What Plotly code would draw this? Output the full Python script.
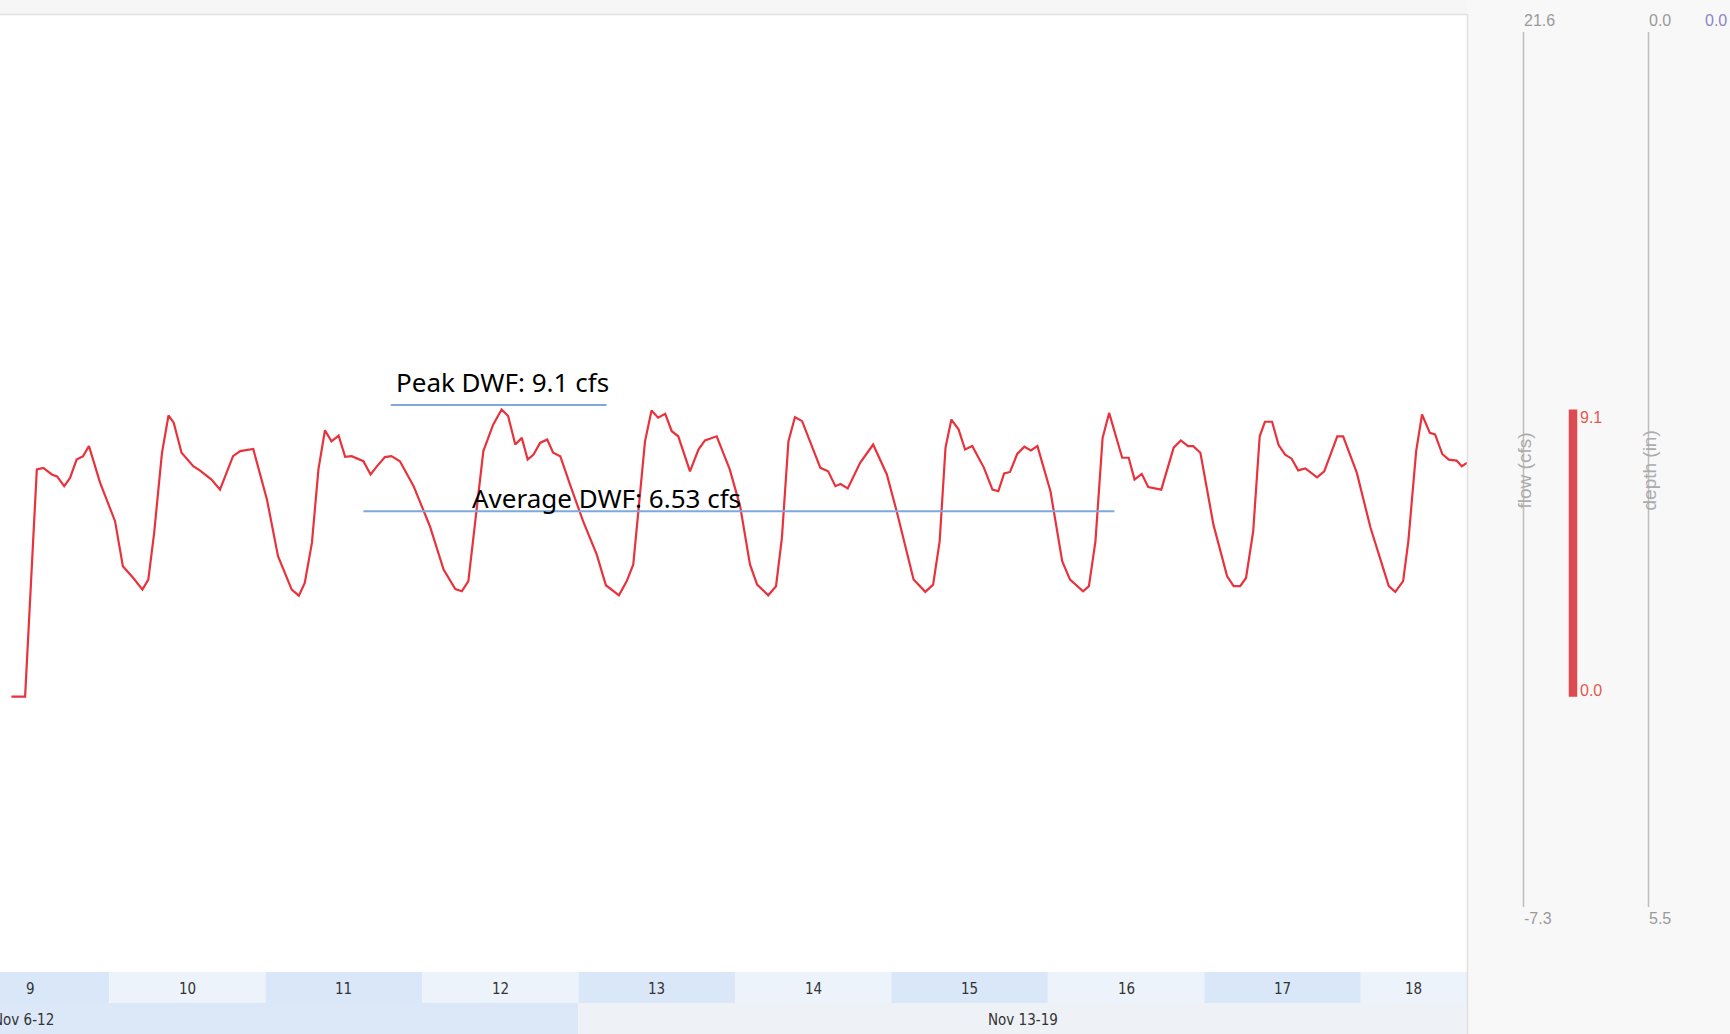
import pandas as pd
import plotly.graph_objects as go

W, H = 1730, 1034

# flow record, hours after 2017-11-09 00:00 -> flow (cfs)
hours = [9.0, 11.1, 12.9, 13.9, 15.2, 16.0, 17.1, 18.0, 19.0, 20.0,
         20.9, 22.6, 24.9, 26.1, 27.7, 29.1, 30.0, 30.9, 32.1, 33.1,
         33.9, 35.1, 36.9, 37.9, 39.7, 41.0, 42.0, 43.0, 44.1, 46.1,
         48.2, 49.9, 52.0, 53.1, 54.0, 55.1, 56.1, 57.1, 58.1, 59.2,
         60.2, 61.2, 63.0, 64.1, 65.0, 66.3, 67.3, 68.6, 70.7, 73.2,
         75.3, 77.1, 78.1, 79.1, 81.4, 82.9, 84.2, 85.2, 86.3, 87.3,
         88.2, 89.1, 90.1, 91.2, 92.1, 93.2, 94.7, 96.7, 98.8, 100.2,
         102.2, 103.4, 104.4, 105.2, 106.2, 107.2, 108.2, 109.3, 110.3, 111.3,
         113.1, 114.4, 115.4, 117.2, 119.2, 120.8, 122.3, 123.4, 125.1, 126.3,
         127.2, 128.2, 129.2, 130.3, 133.1, 134.3, 135.4, 136.2, 137.3, 139.2,
         141.2, 143.3, 144.8, 147.4, 149.2, 150.4, 151.4, 152.3, 153.2, 154.3,
         155.3, 156.4, 158.2, 159.5, 160.4, 161.3, 162.2, 163.3, 164.4, 165.4,
         166.4, 168.4, 170.2, 171.4, 173.4, 174.3, 175.3, 176.4, 177.4, 179.4,
         180.4, 181.3, 182.4, 183.4, 185.4, 187.3, 188.4, 189.5, 190.3, 191.4,
         193.4, 195.5, 196.5, 197.5, 198.4, 199.5, 200.5, 201.3, 202.4, 203.4,
         204.4, 205.4, 206.4, 207.5, 209.3, 210.4, 212.4, 213.3, 215.4, 217.5,
         220.3, 221.3, 222.5, 223.3, 224.5, 225.4, 226.6, 227.4, 228.5, 229.5,
         230.7, 231.5, 232.3]
flow = [0, 0, 7.20, 7.25, 7.04, 6.98, 6.67, 6.93, 7.51, 7.62,
        7.94, 6.78, 5.56, 4.13, 3.76, 3.39, 3.71, 5.19, 7.73, 8.91,
        8.68, 7.73, 7.30, 7.17, 6.88, 6.56, 7.09, 7.62, 7.78, 7.85,
        6.25, 4.45, 3.39, 3.20, 3.60, 4.87, 7.20, 8.44, 8.09, 8.27,
        7.60, 7.62, 7.46, 7.04, 7.28, 7.59, 7.62, 7.46, 6.67, 5.40,
        4.03, 3.41, 3.34, 3.66, 7.78, 8.62, 9.10, 8.89, 7.99, 8.20,
        7.51, 7.67, 8.04, 8.15, 7.73, 7.62, 6.72, 5.56, 4.50, 3.53,
        3.21, 3.66, 4.19, 5.88, 8.09, 9.07, 8.84, 8.96, 8.41, 8.25,
        7.14, 7.83, 8.12, 8.25, 7.20, 6.03, 4.19, 3.55, 3.21, 3.50,
        5.03, 8.09, 8.86, 8.73, 7.25, 7.14, 6.67, 6.74, 6.60, 7.41,
        7.99, 7.04, 5.88, 3.71, 3.32, 3.55, 4.92, 7.89, 8.78, 8.47,
        7.83, 7.94, 7.25, 6.56, 6.51, 7.07, 7.12, 7.69, 7.92, 7.80,
        7.94, 6.51, 4.29, 3.71, 3.34, 3.50, 4.92, 8.20, 8.99, 7.57,
        7.57, 6.88, 7.06, 6.64, 6.56, 7.89, 8.12, 7.94, 7.94, 7.73,
        5.45, 3.81, 3.50, 3.50, 3.76, 5.24, 8.25, 8.71, 8.71, 7.97,
        7.67, 7.54, 7.17, 7.23, 6.95, 7.14, 8.25, 8.25, 7.09, 5.35,
        3.50, 3.32, 3.66, 4.92, 7.78, 8.94, 8.36, 8.31, 7.69, 7.51,
        7.48, 7.30, 7.41]

peak_dwf = 9.1
avg_dwf = 6.53
flow_axis_labels = ["21.6", "-7.3"]
depth_axis_labels = ["0.0", "5.5"]
depth_value = "0.0"
days = [9, 10, 11, 12, 13, 14, 15, 16, 17, 18]
week_names = ["Nov 6-12", "Nov 13-19"]
week_starts = ["2017-11-06", "2017-11-13"]

base = pd.Timestamp("2017-11-09")
times = base + pd.to_timedelta(hours, unit="h")
x_start = base + pd.Timedelta(hours=7.25)
x_end = base + pd.Timedelta(hours=232.3)


def ts(t):
    return pd.Timestamp(t).strftime("%Y-%m-%d %H:%M:%S")


def px(v):
    return v / W


def py(v):
    return 1 - v / H


fig = go.Figure()

fig.add_trace(go.Scatter(
    x=times, y=flow, mode="lines",
    line=dict(color="#e8323c", width=2.2),
    showlegend=False, hoverinfo="skip"
))

# peak bar in the side panel, on the same flow scale
fig.add_trace(go.Bar(
    x=[0], y=[peak_dwf], width=[1], xaxis="x2", yaxis="y",
    marker=dict(color="#dc4a52", line=dict(width=0)),
    showlegend=False, hoverinfo="skip"
))

shapes = []
annotations = []

# side panel and top strip
shapes.append(dict(type="rect", xref="paper", yref="paper", x0=px(1467), x1=1, y0=0, y1=1,
                   fillcolor="#f8f8f8", line=dict(width=0), layer="below"))
shapes.append(dict(type="rect", xref="paper", yref="paper", x0=0, x1=px(1467), y0=py(14), y1=1,
                   fillcolor="#f6f6f6", line=dict(width=0), layer="below"))
shapes.append(dict(type="line", xref="paper", yref="paper", x0=0, x1=px(1467), y0=py(14.5), y1=py(14.5),
                   line=dict(color="#e2e2e2", width=1.5)))
shapes.append(dict(type="line", xref="paper", yref="paper", x0=px(1467.5), x1=px(1467.5), y0=0, y1=py(14),
                   line=dict(color="#e0e0e0", width=1.5)))

label_font = dict(family="DejaVu Sans Condensed, DejaVu Sans", size=15, color="#333333")

# day bands and labels
for d in days:
    d0 = base + pd.Timedelta(days=d - 9)
    d1 = d0 + pd.Timedelta(days=1)
    a, b = max(d0, x_start), min(d1, x_end)
    shapes.append(dict(type="rect", xref="x", yref="paper", x0=ts(a), x1=ts(b),
                       y0=py(1003), y1=py(972), layer="below", line=dict(width=0),
                       fillcolor="#d9e7f9" if d % 2 else "#edf3fb"))
    mid = d0 + (min(d1, x_end) - d0) / 2
    annotations.append(dict(x=ts(mid), y=py(989), xref="x", yref="paper", text=str(d),
                            xanchor="center", yanchor="middle", showarrow=False, font=label_font))

# week bands and labels
for i, (name, ws) in enumerate(zip(week_names, week_starts)):
    w0 = pd.Timestamp(ws)
    w1 = w0 + pd.Timedelta(days=7)
    a, b = max(w0, x_start), min(w1, x_end)
    shapes.append(dict(type="rect", xref="x", yref="paper", x0=ts(a), x1=ts(b),
                       y0=0, y1=py(1003), layer="below", line=dict(width=0),
                       fillcolor="#dce8f8" if i == 0 else "#eef1f6"))
    mid = w0 + (min(w1, x_end) - w0) / 2 if i else base + pd.Timedelta(hours=12)
    annotations.append(dict(x=ts(mid), y=py(1020), xref="x", yref="paper", text=name,
                            xanchor="center", yanchor="middle", xshift=0 if i else -7,
                            showarrow=False, font=label_font))

# DWF reference lines drawn over the chart
shapes.append(dict(type="line", xref="x", yref="y",
                   x0=ts(base + pd.Timedelta(hours=67.2)), x1=ts(base + pd.Timedelta(hours=100.3)),
                   y0=9.24, y1=9.24, line=dict(color="#7fa9dc", width=2)))
shapes.append(dict(type="line", xref="x", yref="y",
                   x0=ts(base + pd.Timedelta(hours=63.0)), x1=ts(base + pd.Timedelta(hours=178.2)),
                   y0=5.875, y1=5.875, line=dict(color="#7fa9dc", width=2)))
annotations.append(dict(x=ts(base + pd.Timedelta(hours=67.7)), y=9.97, xref="x", yref="y",
                        xanchor="left", yanchor="middle", showarrow=False,
                        text=f"Peak DWF: {peak_dwf} cfs",
                        font=dict(family="Noto Sans", size=26, color="#000000")))
annotations.append(dict(x=ts(base + pd.Timedelta(hours=79.3)), y=6.29, xref="x", yref="y",
                        xanchor="left", yanchor="middle", showarrow=False,
                        text=f"Average DWF: {avg_dwf} cfs",
                        font=dict(family="Noto Sans", size=26, color="#000000")))

# side axes
axis_font = dict(family="Liberation Sans, Arial", size=16, color="#9a9a9a")
for xline, labels, title in [(1523.5, flow_axis_labels, "flow (cfs)"),
                             (1648.5, depth_axis_labels, "depth (in)")]:
    shapes.append(dict(type="line", xref="paper", yref="paper", x0=px(xline), x1=px(xline),
                       y0=py(907), y1=py(32), line=dict(color="#bdbdbd", width=1.5)))
    annotations.append(dict(x=px(xline - 2), y=py(21), xref="paper", yref="paper", text=labels[0],
                            xanchor="left", yanchor="middle", showarrow=False, font=axis_font))
    annotations.append(dict(x=px(xline - 2), y=py(918), xref="paper", yref="paper", text=labels[1],
                            xanchor="left", yanchor="middle", showarrow=False, font=axis_font))
    annotations.append(dict(x=px(xline), y=py(471), xref="paper", yref="paper", text=title,
                            xanchor="center", yanchor="middle", textangle=-90, showarrow=False,
                            font=dict(family="Liberation Sans, Arial", size=19, color="#ababab")))
annotations.append(dict(x=px(1703), y=py(21), xref="paper", yref="paper", text=depth_value,
                        xanchor="left", yanchor="middle", showarrow=False,
                        font=dict(family="Liberation Sans, Arial", size=16, color="#8a84c8")))

bar_font = dict(family="Liberation Sans, Arial", size=16, color="#e4574e")
annotations.append(dict(x=px(1578), y=peak_dwf, xref="paper", yref="y", text=f"{peak_dwf}",
                        xanchor="left", yanchor="top", yshift=2, showarrow=False, font=bar_font))
annotations.append(dict(x=px(1578), y=0, xref="paper", yref="y", text="0.0",
                        xanchor="left", yanchor="bottom", yshift=-4, showarrow=False, font=bar_font))

fig.update_layout(
    width=W, height=H,
    margin=dict(l=0, r=0, t=0, b=0),
    paper_bgcolor="white",
    plot_bgcolor="rgba(0,0,0,0)",
    showlegend=False,
    xaxis=dict(domain=[0, px(1467)], range=[ts(x_start), ts(x_end)], type="date",
               visible=False, showgrid=False, zeroline=False, fixedrange=True),
    yaxis=dict(domain=[py(927), py(15)], range=[-7.3, 21.6], visible=False,
               showgrid=False, zeroline=False, fixedrange=True),
    xaxis2=dict(domain=[px(1568.5), px(1577.5)], range=[-0.5, 0.5], anchor="y",
                visible=False, showgrid=False, zeroline=False, fixedrange=True),
    shapes=shapes,
    annotations=annotations,
)

fig.write_html("out.html", config={"displayModeBar": False},
               post_script="document.body.style.margin='0';document.body.style.overflow='hidden';")
